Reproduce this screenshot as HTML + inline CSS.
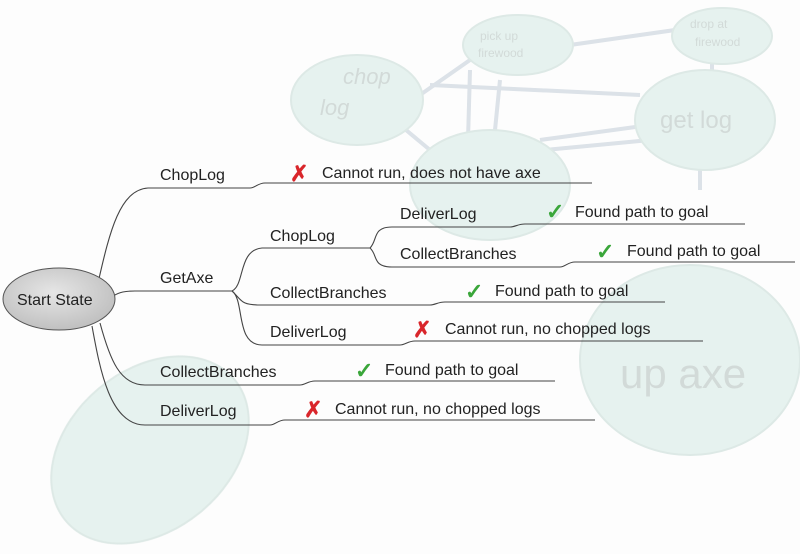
<!DOCTYPE html>
<html><head><meta charset="utf-8"><style>
html,body{margin:0;padding:0;background:#fff;width:800px;height:554px;overflow:hidden;}
svg{display:block;}
text{font-family:"Liberation Sans",sans-serif;}
</style></head><body>
<svg width="800" height="554" viewBox="0 0 800 554" xmlns="http://www.w3.org/2000/svg">
<rect width="800" height="554" fill="#fdfdfd"/>
<g opacity="0.7">
<g stroke="#cdd6de" stroke-width="4" fill="none">
<line x1="420" y1="95" x2="470" y2="60"/>
<line x1="570" y1="45" x2="675" y2="30"/>
<line x1="470" y1="70" x2="468" y2="140"/>
<line x1="500" y1="80" x2="495" y2="130"/>
<line x1="430" y1="85" x2="640" y2="95"/>
<line x1="712" y1="60" x2="712" y2="75"/>
<line x1="540" y1="140" x2="650" y2="125"/>
<line x1="545" y1="150" x2="650" y2="140"/>
<line x1="400" y1="125" x2="430" y2="150"/>
<line x1="700" y1="170" x2="700" y2="190"/>
</g>
<g fill="#dcede8" stroke="#cfe0db" stroke-width="2">
<ellipse cx="357" cy="100" rx="66" ry="45"/>
<ellipse cx="518" cy="45" rx="55" ry="30"/>
<ellipse cx="722" cy="36" rx="50" ry="28"/>
<ellipse cx="705" cy="120" rx="70" ry="50"/>
<ellipse cx="490" cy="185" rx="80" ry="55"/>
<ellipse cx="690" cy="360" rx="110" ry="95"/>
<ellipse cx="150" cy="450" rx="110" ry="80" transform="rotate(-40 150 450)"/>
</g>
<g fill="#bfcbc8" font-size="22" font-style="italic">
<text x="343" y="84">chop</text>
<text x="320" y="115">log</text>
</g>
<text x="660" y="128" font-size="24" fill="#bfcbc8">get log</text>
<text x="620" y="388" font-size="42" fill="#bfcbc8">up axe</text>
<text x="480" y="40" font-size="12" fill="#bfcbc8">pick up</text>
<text x="478" y="57" font-size="12" fill="#bfcbc8">firewood</text>
<text x="690" y="28" font-size="12" fill="#bfcbc8">drop at</text>
<text x="695" y="46" font-size="12" fill="#bfcbc8">firewood</text>
</g>
<g stroke="#444" stroke-width="1.1" fill="none">
<path d="M98 283 C110 230,120 190,148 188 L250 188 C255 188,258 183,265 183 L592 183"/>
<path d="M113 296 C120 292,125 291,135 291 L232 291"/>
<path d="M232 291 C245 285,238 250,262 248 L370 248"/>
<path d="M232 291 C242 300,240 305,260 305 L430 305 C435 305,438 302,445 302 L665 302"/>
<path d="M232 291 C245 300,235 345,262 345 L400 345 C405 345,408 341,415 341 L703 341"/>
<path d="M100 323 C110 360,120 385,145 385 L300 385 C305 385,308 381,315 381 L555 381"/>
<path d="M92 326 C100 370,110 425,145 425 L270 425 C275 425,278 420,285 420 L595 420"/>
<path d="M370 248 C378 240,372 227,392 227 L510 227 C515 227,518 224,525 224 L745 224"/>
<path d="M370 248 C378 255,372 267,392 267 L560 267 C565 267,568 262,575 262 L795 262"/>
</g>
<defs><radialGradient id="g" cx="45%" cy="40%" r="65%"><stop offset="0" stop-color="#e6e6e6"/><stop offset="1" stop-color="#bdbdbd"/></radialGradient></defs>
<ellipse cx="59" cy="299" rx="56" ry="31" fill="url(#g)" stroke="#555" stroke-width="1"/>
<g font-size="16" fill="#222">
<text x="17" y="305">Start State</text>
<text x="160" y="180">ChopLog</text>
<text x="160" y="283">GetAxe</text>
<text x="160" y="377">CollectBranches</text>
<text x="160" y="416">DeliverLog</text>
<text x="270" y="241">ChopLog</text>
<text x="270" y="298">CollectBranches</text>
<text x="270" y="337">DeliverLog</text>
<text x="400" y="219">DeliverLog</text>
<text x="400" y="259">CollectBranches</text>
<text x="322" y="178">Cannot run, does not have axe</text>
<text x="575" y="217">Found path to goal</text>
<text x="627" y="256">Found path to goal</text>
<text x="495" y="296">Found path to goal</text>
<text x="445" y="334">Cannot run, no chopped logs</text>
<text x="385" y="375">Found path to goal</text>
<text x="335" y="414">Cannot run, no chopped logs</text>
</g>
<g font-size="22" font-weight="bold" fill="#d9262b">
<text x="290" y="181">✗</text>
<text x="413" y="337">✗</text>
<text x="304" y="417">✗</text>
</g>
<g font-size="22" font-weight="bold" fill="#3aa63a">
<text x="546" y="219">✓</text>
<text x="596" y="259">✓</text>
<text x="465" y="299">✓</text>
<text x="355" y="378">✓</text>
</g>
</svg>
</body></html>
